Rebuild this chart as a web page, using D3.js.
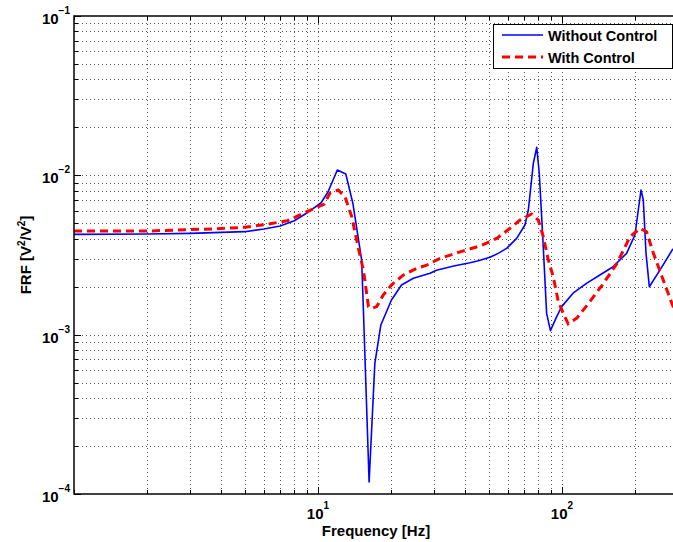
<!DOCTYPE html>
<html>
<head>
<meta charset="utf-8">
<script src="https://cdn.jsdelivr.net/npm/d3@7"></script>
<style>
  body { margin: 0; background: #fff; }
  svg { display: block; font-family: "Liberation Sans", Arial, sans-serif; }
</style>
</head>
<body>
<script>
'use strict';

var width = 673,
    height = 542;

// frequency [Hz] and FRF magnitude
var freqWithout = [1, 2, 3, 5, 6, 7, 8, 9, 10.3, 11, 12, 13, 13.9, 15.1, 15.35, 16.2, 17.1, 18.1, 20, 22, 24.6, 28.8,
                   30.6, 36, 42, 45, 50.7, 55, 59.3, 65.2, 70.5, 72.8, 76.3, 78.8, 80.7, 83.4, 86.5, 89.7, 94.5, 99.7,
                   111, 126, 143, 162, 184, 199, 205.5, 210.8, 215.4, 221, 228, 252, 284, 300];
var frfWithout = [0.00426, 0.00428, 0.00432, 0.00443, 0.0046, 0.00481, 0.00519, 0.0058, 0.00673, 0.00789, 0.0108, 0.0102, 0.00667,
                  0.00294, 0.00143, 0.000119, 0.00066, 0.00115, 0.00165, 0.00205, 0.00226, 0.00243,
                  0.00254, 0.0027, 0.00283, 0.0029, 0.00306, 0.00325, 0.00348, 0.00402, 0.00488, 0.00606, 0.0119, 0.0150, 0.0103,
                  0.00412, 0.00136, 0.00106, 0.00127, 0.0015,
                  0.00182, 0.0021, 0.00237, 0.00267, 0.00324, 0.00422, 0.00606, 0.00809, 0.0070, 0.00324,
                  0.0020, 0.00254, 0.00343, 0.0036];

var freqWith = [1, 2, 2.57, 3.86, 5, 6.2, 7.5, 9, 10.6, 11.2, 12.1, 12.9, 13.75, 14.6, 15.35, 16.1, 16.6, 17.4,
                18.5, 20, 22.4, 25.4, 27.9, 31.6, 38.2, 46.1, 54, 61.2, 67.3, 75.1, 80, 83.8, 87.9, 92.1,
                96.6, 101.2, 106, 115, 130, 148, 168, 190, 209, 222, 237, 260, 284, 300];
var frfWith = [0.00447, 0.00447, 0.00453, 0.00462, 0.00472, 0.00493, 0.00519, 0.00591, 0.0066, 0.00774, 0.00809,
               0.00734, 0.0055, 0.00356, 0.00254, 0.0015, 0.00146, 0.0015,
               0.00177, 0.00205, 0.00237, 0.00261, 0.00273, 0.00301, 0.00331, 0.0036, 0.00402, 0.00465,
               0.00524, 0.00572, 0.00524, 0.00412, 0.00294, 0.00231,
               0.00161, 0.00136, 0.00117, 0.00127, 0.00161, 0.0021, 0.0028, 0.00412, 0.00465, 0.00443,
               0.00324, 0.0022, 0.00153, 0.00133];

var xTicks = [10, 100];
var yTicks = [1e-4, 1e-3, 1e-2, 1e-1];
var xExps = ['1', '2'];
var yExps = ['\u22124', '\u22123', '\u22122', '\u22121'];
var legendLabels = ['Without Control', 'With Control'];

var x = d3.scaleLog().domain([1, 300]).range([74, 678.4]);
var y = d3.scaleLog().domain([1e-4, 1e-1]).range([494, 16]);

var svg = d3.select('body').append('svg')
    .attr('width', width)
    .attr('height', height);

// minor + major grid values
function logSteps(lo, hi) {
  var out = [];
  for (var e = Math.floor(Math.log10(lo)); e <= Math.ceil(Math.log10(hi)); e++) {
    for (var m = 1; m < 10; m++) {
      var v = m * Math.pow(10, e);
      if (v >= lo * 0.999 && v <= hi * 1.001) out.push(v);
    }
  }
  return out;
}
var xGrid = logSteps(1, 300);
var yGrid = logSteps(1e-4, 1e-1);

var grid = svg.append('g')
    .attr('stroke', '#555')
    .attr('stroke-width', 1)
    .attr('stroke-dasharray', '1,3');

grid.selectAll('.vg').data(xGrid.filter(function(d) { return d > 1; })).enter()
  .append('line')
    .attr('x1', function(d) { return Math.round(x(d)) + 0.5; })
    .attr('x2', function(d) { return Math.round(x(d)) + 0.5; })
    .attr('y1', y(1e-1))
    .attr('y2', y(1e-4));

grid.selectAll('.hg').data(yGrid.filter(function(d) { return d > 1.001e-4 && d < 0.999e-1; })).enter()
  .append('line')
    .attr('y1', function(d) { return Math.round(y(d)) + 0.5; })
    .attr('y2', function(d) { return Math.round(y(d)) + 0.5; })
    .attr('x1', x(1))
    .attr('x2', x(300));

// ticks (inward, bottom/top/left)
var ticks = svg.append('g').attr('stroke', '#000').attr('stroke-width', 1);
xGrid.forEach(function(d) {
  var len = xTicks.indexOf(d) >= 0 ? 7 : 4;
  var px = Math.round(x(d)) + 0.5;
  ticks.append('line').attr('x1', px).attr('x2', px).attr('y1', y(1e-4)).attr('y2', y(1e-4) - len);
  ticks.append('line').attr('x1', px).attr('x2', px).attr('y1', y(1e-1)).attr('y2', y(1e-1) + len);
});
yGrid.forEach(function(d) {
  var len = yTicks.indexOf(d) >= 0 ? 7 : 4;
  var py = Math.round(y(d)) + 0.5;
  ticks.append('line').attr('y1', py).attr('y2', py).attr('x1', x(1)).attr('x2', x(1) + len);
});

// curves
var line = d3.line()
    .x(function(d) { return x(d[0]); })
    .y(function(d) { return y(d[1]); });

svg.append('clipPath').attr('id', 'plotclip')
  .append('rect')
    .attr('x', x(1)).attr('y', y(1e-1))
    .attr('width', x(300) - x(1)).attr('height', y(1e-4) - y(1e-1));

var plot = svg.append('g').attr('clip-path', 'url(#plotclip)');

plot.append('path')
    .attr('d', line(d3.zip(freqWithout, frfWithout)))
    .attr('fill', 'none')
    .attr('stroke', '#0000ff')
    .attr('stroke-width', 1.6)
    .attr('stroke-linejoin', 'round');

plot.append('path')
    .attr('d', line(d3.zip(freqWith, frfWith)))
    .attr('fill', 'none')
    .attr('stroke', '#ff0000')
    .attr('stroke-width', 3)
    .attr('stroke-dasharray', '8,5');

// axis box
svg.append('line')
    .attr('x1', x(1)).attr('x2', x(1)).attr('y1', y(1e-1) - 0.75).attr('y2', y(1e-4) + 0.75)
    .attr('stroke', '#000').attr('stroke-width', 1.5);
svg.append('line')
    .attr('x1', x(1)).attr('x2', width).attr('y1', y(1e-4)).attr('y2', y(1e-4))
    .attr('stroke', '#000').attr('stroke-width', 1.5);
svg.append('line')
    .attr('x1', x(1)).attr('x2', width).attr('y1', y(1e-1)).attr('y2', y(1e-1))
    .attr('stroke', '#000').attr('stroke-width', 1.5);

// tick labels
var xl = svg.selectAll('.xl').data(xTicks).enter()
  .append('text')
    .attr('x', function(d) { return x(d); })
    .attr('y', 519)
    .attr('text-anchor', 'middle')
    .attr('font-weight', 'bold')
    .attr('font-size', 15);
xl.append('tspan').text('10');
xl.append('tspan').attr('dy', -10).attr('font-size', 10).text(function(d, i) { return xExps[i]; });

var yl = svg.selectAll('.yl').data(yTicks).enter()
  .append('text')
    .attr('x', 70)
    .attr('y', function(d) { return y(d) + 8; })
    .attr('text-anchor', 'end')
    .attr('font-weight', 'bold')
    .attr('font-size', 15);
yl.append('tspan').text('10');
yl.append('tspan').attr('dy', -10).attr('font-size', 10).text(function(d, i) { return yExps[i]; });

// axis titles
svg.append('text')
    .attr('x', 376).attr('y', 536)
    .attr('text-anchor', 'middle')
    .attr('font-weight', 'bold')
    .attr('font-size', 15)
    .text('Frequency [Hz]');

var yt = svg.append('text')
    .attr('transform', 'translate(31,255) rotate(-90)')
    .attr('text-anchor', 'middle')
    .attr('font-weight', 'bold')
    .attr('font-size', 15);
yt.append('tspan').text('FRF [V');
yt.append('tspan').attr('dy', -6).attr('font-size', 10).text('2');
yt.append('tspan').attr('dy', 6).text('/V');
yt.append('tspan').attr('dy', -6).attr('font-size', 10).text('2');
yt.append('tspan').attr('dy', 6).text(']');

// legend
var legend = svg.append('g');
legend.append('rect')
    .attr('x', 493.5).attr('y', 24.5)
    .attr('width', 179).attr('height', 44)
    .attr('fill', '#fff')
    .attr('stroke', '#000')
    .attr('stroke-width', 1);

var legendColors = ['#0000ff', '#ff0000'];
var legendWidths = [1.6, 3];
var legendDash = [null, '8,5'];
legendLabels.forEach(function(lab, i) {
  var ly = 35 + i * 22;
  legend.append('line')
      .attr('x1', 502).attr('x2', 543).attr('y1', ly).attr('y2', ly)
      .attr('stroke', legendColors[i])
      .attr('stroke-width', legendWidths[i])
      .attr('stroke-dasharray', legendDash[i]);
  legend.append('text')
      .attr('x', 548).attr('y', ly + 6)
      .attr('font-weight', 'bold')
      .attr('font-size', 14.5)
      .text(lab);
});
</script>
</body>
</html>
